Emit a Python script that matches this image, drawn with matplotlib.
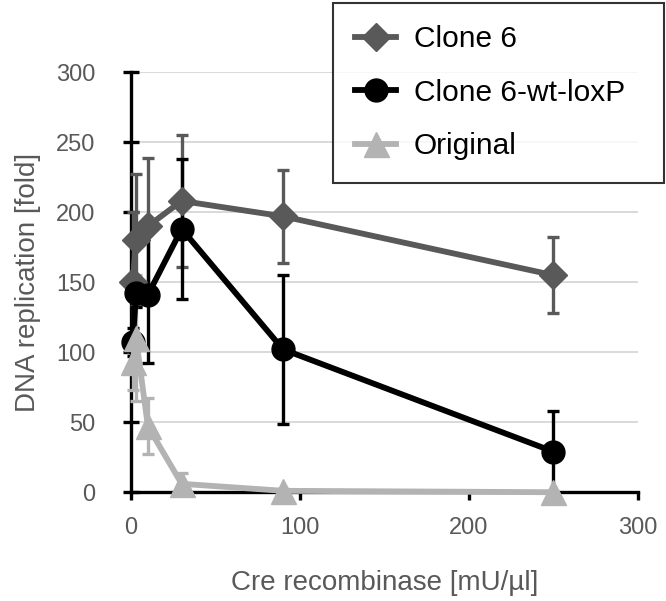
import matplotlib
matplotlib.use("Agg")
import matplotlib.pyplot as plt

plt.rcParams['font.family'] = ['Liberation Sans', 'DejaVu Sans']

# Cre recombinase concentrations [mU/ul]
cre = [1, 3, 10, 30, 90, 250]

clone6 = [150, 180, 190, 208, 197, 155]
clone6_err = [50, 47, 49, 47, 33, 27]

wt_loxp = [107, 142, 141, 188, 102, 29]
wt_loxp_err = [10, 10, 49, 50, 53, 29]

original = [93, 110, 47, 6, 1, 0]
original_err = [20, 45, 20, 8, 1, 0]

series = [
    ('Clone 6', clone6, clone6_err, '#595959', 'D', 14),
    ('Clone 6-wt-loxP', wt_loxp, wt_loxp_err, '#000000', 'o', 16.5),
    ('Original', original, original_err, '#b3b3b3', '^', 18),
]

fig = plt.figure(figsize=(6.66, 6.01), dpi=100)
ax = fig.add_axes([0.1967, 0.181, 0.761, 0.699])

# light gridlines behind everything
for v in range(50, 301, 50):
    ax.axhline(v, color='#d9d9d9', lw=1.4, zorder=0)

handles = []
for name, vals, err, col, mk, ms in series:
    ax.errorbar(cre, vals, yerr=err, fmt='none', ecolor=col, elinewidth=2.4,
                capsize=4.3, capthick=2.4, zorder=2, clip_on=False)
    h, = ax.plot(cre, vals, color=col, lw=4.2, marker=mk, markersize=ms,
                 label=name, zorder=3, clip_on=False)
    handles.append(h)

ax.set_xlim(0, 300)
ax.set_ylim(0, 300)
ax.set_xticks(range(0, 301, 100))
ax.set_yticks(range(0, 301, 50))

for s in ['top', 'right']:
    ax.spines[s].set_visible(False)
for s in ['left', 'bottom']:
    ax.spines[s].set_linewidth(2.4)
    ax.spines[s].set_zorder(1)

ax.tick_params(labelsize=17, labelcolor='#595959', width=2.4)
ax.tick_params(axis='y', direction='inout', length=11.5, pad=20)
ax.tick_params(axis='x', direction='out', length=6, pad=12)

ax.set_xlabel('Cre recombinase [mU/µl]', fontsize=20, color='#595959', labelpad=22)
ax.set_ylabel('DNA replication [fold]', fontsize=20, color='#595959', labelpad=11)

# legend box spans roughly x 333..664, y 3..183 px
leg = fig.legend(handles=handles, loc='upper left',
                 bbox_to_anchor=(333 / 666, 1 - 183 / 601, 331 / 666, 180 / 601),
                 mode='expand', fontsize=21.5,
                 frameon=True, fancybox=False, edgecolor='black',
                 borderpad=0.75, labelspacing=0.85, handlelength=1.35,
                 handletextpad=0.6, borderaxespad=0)
leg.get_frame().set_linewidth(1.5)

fig.savefig('out.png', dpi=100)
